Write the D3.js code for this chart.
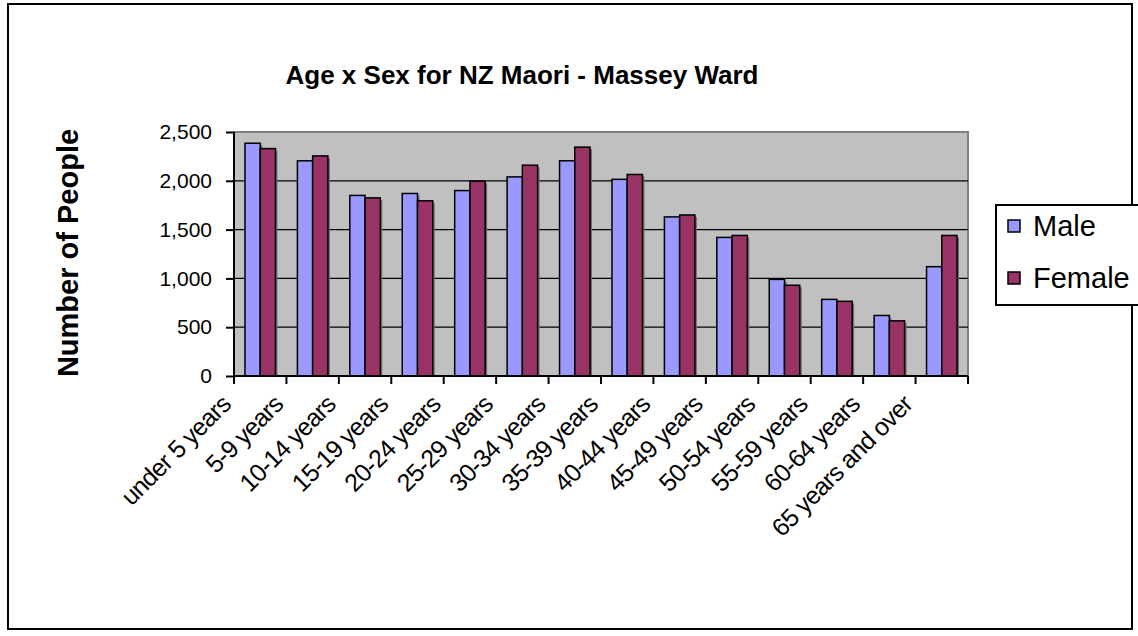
<!DOCTYPE html>
<html>
<head>
<meta charset="utf-8">
<script src="https://cdn.jsdelivr.net/npm/d3@7"></script>
<style>
  body { margin: 0; background: #fff; }
  svg { display: block; font-family: "Liberation Sans", Arial, sans-serif; }
</style>
</head>
<body>
<div id="chart"></div>
<script>
const categories = ['under 5 years', '5-9 years', '10-14 years', '15-19 years', '20-24 years', '25-29 years',
  '30-34 years', '35-39 years', '40-44 years', '45-49 years', '50-54 years', '55-59 years', '60-64 years',
  '65 years and over']
const male = [2385, 2205, 1850, 1870, 1900, 2040, 2205, 2015, 1630, 1420, 990, 785, 620, 1120]
const female = [2330, 2255, 1825, 1795, 1995, 2160, 2345, 2065, 1650, 1440, 930, 765, 565, 1440]
const seriesNames = ['Male', 'Female']
const seriesColors = ['#9999FF', '#993366']
const yTicks = [0, 500, 1000, 1500, 2000, 2500]

const width = 1138
const height = 636
const plot = { left: 234, right: 968, top: 132, bottom: 376 }

const svg = d3.select('#chart').append('svg').attr('width', width).attr('height', height)

// outer chart border
svg.append('rect')
  .attr('x', 8).attr('y', 4).attr('width', 1124).attr('height', 625)
  .attr('fill', '#fff').attr('stroke', '#000').attr('stroke-width', 2)

const x = d3.scaleBand().domain(categories).range([plot.left, plot.right]).padding(0)
const xs = d3.scaleBand().domain(seriesNames).range([0, x.bandwidth()]).paddingInner(0).paddingOuter(0.72)
const y = d3.scaleLinear().domain([0, 2500]).range([plot.bottom, plot.top])

// plot area
svg.append('rect')
  .attr('x', plot.left).attr('y', plot.top)
  .attr('width', plot.right - plot.left).attr('height', plot.bottom - plot.top)
  .attr('fill', '#C0C0C0').attr('stroke', '#808080').attr('stroke-width', 2)

svg.append('g')
  .selectAll('line')
  .data(yTicks.filter(d => d > 0 && d < 2500))
  .join('line')
  .attr('x1', plot.left).attr('x2', plot.right)
  .attr('y1', d => y(d)).attr('y2', d => y(d))
  .attr('stroke', '#000').attr('stroke-width', 1.3)

const rows = categories.map((c, i) => ({ cat: c, values: [male[i], female[i]] }))

const groups = svg.append('g')
  .selectAll('g')
  .data(rows)
  .join('g')
  .attr('transform', d => `translate(${x(d.cat)},0)`)

// shadows
groups.selectAll('rect.shadow')
  .data(d => d.values.map((v, j) => ({ v, s: seriesNames[j] })))
  .join('rect')
  .attr('class', 'shadow')
  .attr('x', d => xs(d.s) + 2)
  .attr('y', d => y(d.v) + 2)
  .attr('width', xs.bandwidth())
  .attr('height', d => plot.bottom - y(d.v) - 2)
  .attr('fill', '#6e6e6e')

groups.selectAll('rect.bar')
  .data(d => d.values.map((v, j) => ({ v, s: seriesNames[j], c: seriesColors[j] })))
  .join('rect')
  .attr('class', 'bar')
  .attr('x', d => xs(d.s))
  .attr('y', d => y(d.v))
  .attr('width', xs.bandwidth())
  .attr('height', d => plot.bottom - y(d.v))
  .attr('fill', d => d.c)
  .attr('stroke', '#000').attr('stroke-width', 1.5)

// y axis
const yAxis = svg.append('g')
  .attr('transform', `translate(${plot.left},0)`)
  .call(d3.axisLeft(y).tickValues(yTicks).tickSize(8).tickPadding(14).tickFormat(d3.format(',')))
yAxis.select('.domain').attr('stroke', '#000').attr('stroke-width', 2).attr('d', `M0,${plot.top}V${plot.bottom}`)
yAxis.selectAll('.tick line').attr('stroke', '#000').attr('stroke-width', 2)
yAxis.selectAll('.tick text').attr('font-size', 21).attr('fill', '#000')
  .attr('font-family', '"Liberation Sans", Arial, sans-serif')

// x axis: ticks between categories
const xAxis = svg.append('g')
  .attr('transform', `translate(0,${plot.bottom})`)
xAxis.append('line')
  .attr('x1', plot.left).attr('x2', plot.right)
  .attr('stroke', '#000').attr('stroke-width', 2)
xAxis.selectAll('line.tk')
  .data(categories.concat(['end']))
  .join('line')
  .attr('class', 'tk')
  .attr('x1', (d, i) => i < categories.length ? x(d) : plot.right)
  .attr('x2', (d, i) => i < categories.length ? x(d) : plot.right)
  .attr('y1', 0).attr('y2', 8)
  .attr('stroke', '#000').attr('stroke-width', 2)

xAxis.selectAll('text')
  .data(categories)
  .join('text')
  .attr('transform', d => `translate(${x(d) + x.bandwidth() / 2 - 28},${30}) rotate(-45)`)
  .attr('text-anchor', 'end')
  .attr('font-size', 25)
  .attr('letter-spacing', -0.8)
  .text(d => d)

// title
svg.append('text')
  .attr('x', 522).attr('y', 84)
  .attr('text-anchor', 'middle')
  .attr('font-size', 26).attr('font-weight', 'bold')
  .text('Age x Sex for NZ Maori - Massey Ward')

// y title
svg.append('text')
  .attr('transform', `translate(78,${(plot.top + plot.bottom) / 2 - 1}) rotate(-90)`)
  .attr('text-anchor', 'middle')
  .attr('font-size', 29).attr('font-weight', 'bold')
  .text('Number of People')

// legend
const legend = svg.append('g')
legend.append('rect')
  .attr('x', 996).attr('y', 205).attr('width', 160).attr('height', 100)
  .attr('fill', '#fff').attr('stroke', '#000').attr('stroke-width', 2)
const li = legend.selectAll('g.item')
  .data(seriesNames)
  .join('g')
  .attr('class', 'item')
  .attr('transform', (d, i) => `translate(1008,${226 + i * 52})`)
li.append('rect')
  .attr('width', 12).attr('height', 12).attr('y', -6)
  .attr('fill', (d, i) => seriesColors[i]).attr('stroke', '#000').attr('stroke-width', 1.5)
li.append('text')
  .attr('x', 25).attr('y', 10)
  .attr('font-size', 29)
  .text(d => d)
</script>
</body>
</html>
